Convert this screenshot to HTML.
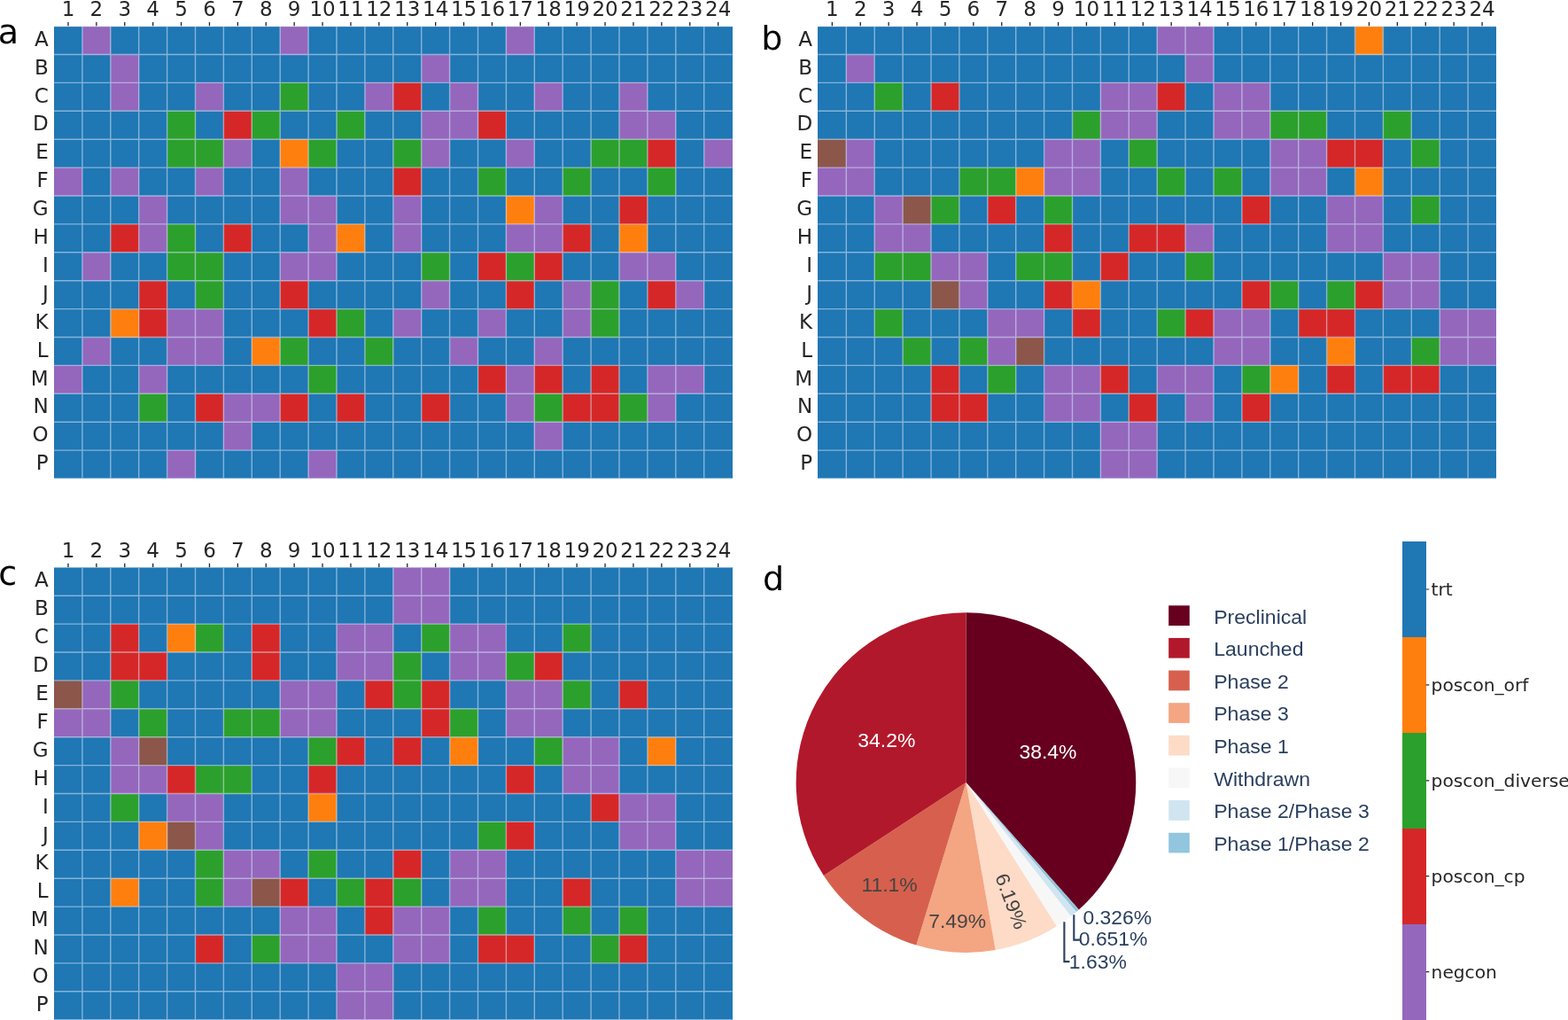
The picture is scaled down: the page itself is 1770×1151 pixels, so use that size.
<!DOCTYPE html>
<html><head><meta charset="utf-8"><title>Plate layout</title>
<style>html,body{margin:0;padding:0;background:#fff;overflow:hidden;}svg{display:block;}</style>
</head><body>
<svg width="1770" height="1151" viewBox="0 0 1770 1151">
<rect x="0" y="0" width="1770" height="1151" fill="#ffffff"/>
<g shape-rendering="crispEdges"><rect x="61" y="29.6" width="31.9" height="31.9" fill="#1f77b4"/><rect x="92.9" y="29.6" width="31.9" height="31.9" fill="#9467bd"/><rect x="124.8" y="29.6" width="191.4" height="31.9" fill="#1f77b4"/><rect x="316.2" y="29.6" width="31.9" height="31.9" fill="#9467bd"/><rect x="348.1" y="29.6" width="223.3" height="31.9" fill="#1f77b4"/><rect x="571.4" y="29.6" width="31.9" height="31.9" fill="#9467bd"/><rect x="603.3" y="29.6" width="223.3" height="31.9" fill="#1f77b4"/><rect x="61" y="61.5" width="63.8" height="31.9" fill="#1f77b4"/><rect x="124.8" y="61.5" width="31.9" height="31.9" fill="#9467bd"/><rect x="156.7" y="61.5" width="319" height="31.9" fill="#1f77b4"/><rect x="475.7" y="61.5" width="31.9" height="31.9" fill="#9467bd"/><rect x="507.6" y="61.5" width="319" height="31.9" fill="#1f77b4"/><rect x="61" y="93.4" width="63.8" height="31.9" fill="#1f77b4"/><rect x="124.8" y="93.4" width="31.9" height="31.9" fill="#9467bd"/><rect x="156.7" y="93.4" width="63.8" height="31.9" fill="#1f77b4"/><rect x="220.5" y="93.4" width="31.9" height="31.9" fill="#9467bd"/><rect x="252.4" y="93.4" width="63.8" height="31.9" fill="#1f77b4"/><rect x="316.2" y="93.4" width="31.9" height="31.9" fill="#2ca02c"/><rect x="348.1" y="93.4" width="63.8" height="31.9" fill="#1f77b4"/><rect x="411.9" y="93.4" width="31.9" height="31.9" fill="#9467bd"/><rect x="443.8" y="93.4" width="31.9" height="31.9" fill="#d62728"/><rect x="475.7" y="93.4" width="31.9" height="31.9" fill="#1f77b4"/><rect x="507.6" y="93.4" width="31.9" height="31.9" fill="#9467bd"/><rect x="539.5" y="93.4" width="63.8" height="31.9" fill="#1f77b4"/><rect x="603.3" y="93.4" width="31.9" height="31.9" fill="#9467bd"/><rect x="635.2" y="93.4" width="63.8" height="31.9" fill="#1f77b4"/><rect x="699" y="93.4" width="31.9" height="31.9" fill="#9467bd"/><rect x="730.9" y="93.4" width="95.7" height="31.9" fill="#1f77b4"/><rect x="61" y="125.3" width="127.6" height="31.9" fill="#1f77b4"/><rect x="188.6" y="125.3" width="31.9" height="31.9" fill="#2ca02c"/><rect x="220.5" y="125.3" width="31.9" height="31.9" fill="#1f77b4"/><rect x="252.4" y="125.3" width="31.9" height="31.9" fill="#d62728"/><rect x="284.3" y="125.3" width="31.9" height="31.9" fill="#2ca02c"/><rect x="316.2" y="125.3" width="63.8" height="31.9" fill="#1f77b4"/><rect x="380" y="125.3" width="31.9" height="31.9" fill="#2ca02c"/><rect x="411.9" y="125.3" width="63.8" height="31.9" fill="#1f77b4"/><rect x="475.7" y="125.3" width="63.8" height="31.9" fill="#9467bd"/><rect x="539.5" y="125.3" width="31.9" height="31.9" fill="#d62728"/><rect x="571.4" y="125.3" width="127.6" height="31.9" fill="#1f77b4"/><rect x="699" y="125.3" width="63.8" height="31.9" fill="#9467bd"/><rect x="762.8" y="125.3" width="63.8" height="31.9" fill="#1f77b4"/><rect x="61" y="157.2" width="127.6" height="31.9" fill="#1f77b4"/><rect x="188.6" y="157.2" width="63.8" height="31.9" fill="#2ca02c"/><rect x="252.4" y="157.2" width="31.9" height="31.9" fill="#9467bd"/><rect x="284.3" y="157.2" width="31.9" height="31.9" fill="#1f77b4"/><rect x="316.2" y="157.2" width="31.9" height="31.9" fill="#ff7f0e"/><rect x="348.1" y="157.2" width="31.9" height="31.9" fill="#2ca02c"/><rect x="380" y="157.2" width="63.8" height="31.9" fill="#1f77b4"/><rect x="443.8" y="157.2" width="31.9" height="31.9" fill="#2ca02c"/><rect x="475.7" y="157.2" width="31.9" height="31.9" fill="#9467bd"/><rect x="507.6" y="157.2" width="63.8" height="31.9" fill="#1f77b4"/><rect x="571.4" y="157.2" width="31.9" height="31.9" fill="#9467bd"/><rect x="603.3" y="157.2" width="63.8" height="31.9" fill="#1f77b4"/><rect x="667.1" y="157.2" width="63.8" height="31.9" fill="#2ca02c"/><rect x="730.9" y="157.2" width="31.9" height="31.9" fill="#d62728"/><rect x="762.8" y="157.2" width="31.9" height="31.9" fill="#1f77b4"/><rect x="794.7" y="157.2" width="31.9" height="31.9" fill="#9467bd"/><rect x="61" y="189.1" width="31.9" height="31.9" fill="#9467bd"/><rect x="92.9" y="189.1" width="31.9" height="31.9" fill="#1f77b4"/><rect x="124.8" y="189.1" width="31.9" height="31.9" fill="#9467bd"/><rect x="156.7" y="189.1" width="63.8" height="31.9" fill="#1f77b4"/><rect x="220.5" y="189.1" width="31.9" height="31.9" fill="#9467bd"/><rect x="252.4" y="189.1" width="63.8" height="31.9" fill="#1f77b4"/><rect x="316.2" y="189.1" width="31.9" height="31.9" fill="#9467bd"/><rect x="348.1" y="189.1" width="95.7" height="31.9" fill="#1f77b4"/><rect x="443.8" y="189.1" width="31.9" height="31.9" fill="#d62728"/><rect x="475.7" y="189.1" width="63.8" height="31.9" fill="#1f77b4"/><rect x="539.5" y="189.1" width="31.9" height="31.9" fill="#2ca02c"/><rect x="571.4" y="189.1" width="63.8" height="31.9" fill="#1f77b4"/><rect x="635.2" y="189.1" width="31.9" height="31.9" fill="#2ca02c"/><rect x="667.1" y="189.1" width="63.8" height="31.9" fill="#1f77b4"/><rect x="730.9" y="189.1" width="31.9" height="31.9" fill="#2ca02c"/><rect x="762.8" y="189.1" width="63.8" height="31.9" fill="#1f77b4"/><rect x="61" y="221" width="95.7" height="31.9" fill="#1f77b4"/><rect x="156.7" y="221" width="31.9" height="31.9" fill="#9467bd"/><rect x="188.6" y="221" width="127.6" height="31.9" fill="#1f77b4"/><rect x="316.2" y="221" width="63.8" height="31.9" fill="#9467bd"/><rect x="380" y="221" width="63.8" height="31.9" fill="#1f77b4"/><rect x="443.8" y="221" width="31.9" height="31.9" fill="#9467bd"/><rect x="475.7" y="221" width="95.7" height="31.9" fill="#1f77b4"/><rect x="571.4" y="221" width="31.9" height="31.9" fill="#ff7f0e"/><rect x="603.3" y="221" width="31.9" height="31.9" fill="#9467bd"/><rect x="635.2" y="221" width="63.8" height="31.9" fill="#1f77b4"/><rect x="699" y="221" width="31.9" height="31.9" fill="#d62728"/><rect x="730.9" y="221" width="95.7" height="31.9" fill="#1f77b4"/><rect x="61" y="252.9" width="63.8" height="31.9" fill="#1f77b4"/><rect x="124.8" y="252.9" width="31.9" height="31.9" fill="#d62728"/><rect x="156.7" y="252.9" width="31.9" height="31.9" fill="#9467bd"/><rect x="188.6" y="252.9" width="31.9" height="31.9" fill="#2ca02c"/><rect x="220.5" y="252.9" width="31.9" height="31.9" fill="#1f77b4"/><rect x="252.4" y="252.9" width="31.9" height="31.9" fill="#d62728"/><rect x="284.3" y="252.9" width="63.8" height="31.9" fill="#1f77b4"/><rect x="348.1" y="252.9" width="31.9" height="31.9" fill="#9467bd"/><rect x="380" y="252.9" width="31.9" height="31.9" fill="#ff7f0e"/><rect x="411.9" y="252.9" width="31.9" height="31.9" fill="#1f77b4"/><rect x="443.8" y="252.9" width="31.9" height="31.9" fill="#9467bd"/><rect x="475.7" y="252.9" width="95.7" height="31.9" fill="#1f77b4"/><rect x="571.4" y="252.9" width="63.8" height="31.9" fill="#9467bd"/><rect x="635.2" y="252.9" width="31.9" height="31.9" fill="#d62728"/><rect x="667.1" y="252.9" width="31.9" height="31.9" fill="#1f77b4"/><rect x="699" y="252.9" width="31.9" height="31.9" fill="#ff7f0e"/><rect x="730.9" y="252.9" width="95.7" height="31.9" fill="#1f77b4"/><rect x="61" y="284.8" width="31.9" height="31.9" fill="#1f77b4"/><rect x="92.9" y="284.8" width="31.9" height="31.9" fill="#9467bd"/><rect x="124.8" y="284.8" width="63.8" height="31.9" fill="#1f77b4"/><rect x="188.6" y="284.8" width="63.8" height="31.9" fill="#2ca02c"/><rect x="252.4" y="284.8" width="63.8" height="31.9" fill="#1f77b4"/><rect x="316.2" y="284.8" width="63.8" height="31.9" fill="#9467bd"/><rect x="380" y="284.8" width="95.7" height="31.9" fill="#1f77b4"/><rect x="475.7" y="284.8" width="31.9" height="31.9" fill="#2ca02c"/><rect x="507.6" y="284.8" width="31.9" height="31.9" fill="#1f77b4"/><rect x="539.5" y="284.8" width="31.9" height="31.9" fill="#d62728"/><rect x="571.4" y="284.8" width="31.9" height="31.9" fill="#2ca02c"/><rect x="603.3" y="284.8" width="31.9" height="31.9" fill="#d62728"/><rect x="635.2" y="284.8" width="63.8" height="31.9" fill="#1f77b4"/><rect x="699" y="284.8" width="63.8" height="31.9" fill="#9467bd"/><rect x="762.8" y="284.8" width="63.8" height="31.9" fill="#1f77b4"/><rect x="61" y="316.7" width="95.7" height="31.9" fill="#1f77b4"/><rect x="156.7" y="316.7" width="31.9" height="31.9" fill="#d62728"/><rect x="188.6" y="316.7" width="31.9" height="31.9" fill="#1f77b4"/><rect x="220.5" y="316.7" width="31.9" height="31.9" fill="#2ca02c"/><rect x="252.4" y="316.7" width="63.8" height="31.9" fill="#1f77b4"/><rect x="316.2" y="316.7" width="31.9" height="31.9" fill="#d62728"/><rect x="348.1" y="316.7" width="127.6" height="31.9" fill="#1f77b4"/><rect x="475.7" y="316.7" width="31.9" height="31.9" fill="#9467bd"/><rect x="507.6" y="316.7" width="63.8" height="31.9" fill="#1f77b4"/><rect x="571.4" y="316.7" width="31.9" height="31.9" fill="#d62728"/><rect x="603.3" y="316.7" width="31.9" height="31.9" fill="#1f77b4"/><rect x="635.2" y="316.7" width="31.9" height="31.9" fill="#9467bd"/><rect x="667.1" y="316.7" width="31.9" height="31.9" fill="#2ca02c"/><rect x="699" y="316.7" width="31.9" height="31.9" fill="#1f77b4"/><rect x="730.9" y="316.7" width="31.9" height="31.9" fill="#d62728"/><rect x="762.8" y="316.7" width="31.9" height="31.9" fill="#9467bd"/><rect x="794.7" y="316.7" width="31.9" height="31.9" fill="#1f77b4"/><rect x="61" y="348.6" width="63.8" height="31.9" fill="#1f77b4"/><rect x="124.8" y="348.6" width="31.9" height="31.9" fill="#ff7f0e"/><rect x="156.7" y="348.6" width="31.9" height="31.9" fill="#d62728"/><rect x="188.6" y="348.6" width="63.8" height="31.9" fill="#9467bd"/><rect x="252.4" y="348.6" width="95.7" height="31.9" fill="#1f77b4"/><rect x="348.1" y="348.6" width="31.9" height="31.9" fill="#d62728"/><rect x="380" y="348.6" width="31.9" height="31.9" fill="#2ca02c"/><rect x="411.9" y="348.6" width="31.9" height="31.9" fill="#1f77b4"/><rect x="443.8" y="348.6" width="31.9" height="31.9" fill="#9467bd"/><rect x="475.7" y="348.6" width="63.8" height="31.9" fill="#1f77b4"/><rect x="539.5" y="348.6" width="31.9" height="31.9" fill="#9467bd"/><rect x="571.4" y="348.6" width="63.8" height="31.9" fill="#1f77b4"/><rect x="635.2" y="348.6" width="31.9" height="31.9" fill="#9467bd"/><rect x="667.1" y="348.6" width="31.9" height="31.9" fill="#2ca02c"/><rect x="699" y="348.6" width="127.6" height="31.9" fill="#1f77b4"/><rect x="61" y="380.5" width="31.9" height="31.9" fill="#1f77b4"/><rect x="92.9" y="380.5" width="31.9" height="31.9" fill="#9467bd"/><rect x="124.8" y="380.5" width="63.8" height="31.9" fill="#1f77b4"/><rect x="188.6" y="380.5" width="63.8" height="31.9" fill="#9467bd"/><rect x="252.4" y="380.5" width="31.9" height="31.9" fill="#1f77b4"/><rect x="284.3" y="380.5" width="31.9" height="31.9" fill="#ff7f0e"/><rect x="316.2" y="380.5" width="31.9" height="31.9" fill="#2ca02c"/><rect x="348.1" y="380.5" width="63.8" height="31.9" fill="#1f77b4"/><rect x="411.9" y="380.5" width="31.9" height="31.9" fill="#2ca02c"/><rect x="443.8" y="380.5" width="63.8" height="31.9" fill="#1f77b4"/><rect x="507.6" y="380.5" width="31.9" height="31.9" fill="#9467bd"/><rect x="539.5" y="380.5" width="63.8" height="31.9" fill="#1f77b4"/><rect x="603.3" y="380.5" width="31.9" height="31.9" fill="#9467bd"/><rect x="635.2" y="380.5" width="191.4" height="31.9" fill="#1f77b4"/><rect x="61" y="412.4" width="31.9" height="31.9" fill="#9467bd"/><rect x="92.9" y="412.4" width="63.8" height="31.9" fill="#1f77b4"/><rect x="156.7" y="412.4" width="31.9" height="31.9" fill="#9467bd"/><rect x="188.6" y="412.4" width="159.5" height="31.9" fill="#1f77b4"/><rect x="348.1" y="412.4" width="31.9" height="31.9" fill="#2ca02c"/><rect x="380" y="412.4" width="159.5" height="31.9" fill="#1f77b4"/><rect x="539.5" y="412.4" width="31.9" height="31.9" fill="#d62728"/><rect x="571.4" y="412.4" width="31.9" height="31.9" fill="#9467bd"/><rect x="603.3" y="412.4" width="31.9" height="31.9" fill="#d62728"/><rect x="635.2" y="412.4" width="31.9" height="31.9" fill="#1f77b4"/><rect x="667.1" y="412.4" width="31.9" height="31.9" fill="#d62728"/><rect x="699" y="412.4" width="31.9" height="31.9" fill="#1f77b4"/><rect x="730.9" y="412.4" width="63.8" height="31.9" fill="#9467bd"/><rect x="794.7" y="412.4" width="31.9" height="31.9" fill="#1f77b4"/><rect x="61" y="444.3" width="95.7" height="31.9" fill="#1f77b4"/><rect x="156.7" y="444.3" width="31.9" height="31.9" fill="#2ca02c"/><rect x="188.6" y="444.3" width="31.9" height="31.9" fill="#1f77b4"/><rect x="220.5" y="444.3" width="31.9" height="31.9" fill="#d62728"/><rect x="252.4" y="444.3" width="63.8" height="31.9" fill="#9467bd"/><rect x="316.2" y="444.3" width="31.9" height="31.9" fill="#d62728"/><rect x="348.1" y="444.3" width="31.9" height="31.9" fill="#1f77b4"/><rect x="380" y="444.3" width="31.9" height="31.9" fill="#d62728"/><rect x="411.9" y="444.3" width="63.8" height="31.9" fill="#1f77b4"/><rect x="475.7" y="444.3" width="31.9" height="31.9" fill="#d62728"/><rect x="507.6" y="444.3" width="63.8" height="31.9" fill="#1f77b4"/><rect x="571.4" y="444.3" width="31.9" height="31.9" fill="#9467bd"/><rect x="603.3" y="444.3" width="31.9" height="31.9" fill="#2ca02c"/><rect x="635.2" y="444.3" width="63.8" height="31.9" fill="#d62728"/><rect x="699" y="444.3" width="31.9" height="31.9" fill="#2ca02c"/><rect x="730.9" y="444.3" width="31.9" height="31.9" fill="#9467bd"/><rect x="762.8" y="444.3" width="63.8" height="31.9" fill="#1f77b4"/><rect x="61" y="476.2" width="191.4" height="31.9" fill="#1f77b4"/><rect x="252.4" y="476.2" width="31.9" height="31.9" fill="#9467bd"/><rect x="284.3" y="476.2" width="319" height="31.9" fill="#1f77b4"/><rect x="603.3" y="476.2" width="31.9" height="31.9" fill="#9467bd"/><rect x="635.2" y="476.2" width="191.4" height="31.9" fill="#1f77b4"/><rect x="61" y="508.1" width="127.6" height="31.9" fill="#1f77b4"/><rect x="188.6" y="508.1" width="31.9" height="31.9" fill="#9467bd"/><rect x="220.5" y="508.1" width="127.6" height="31.9" fill="#1f77b4"/><rect x="348.1" y="508.1" width="31.9" height="31.9" fill="#9467bd"/><rect x="380" y="508.1" width="446.6" height="31.9" fill="#1f77b4"/></g>
<path d="M92.9 29.6V540M124.8 29.6V540M156.7 29.6V540M188.6 29.6V540M220.5 29.6V540M252.4 29.6V540M284.3 29.6V540M316.2 29.6V540M348.1 29.6V540M380 29.6V540M411.9 29.6V540M443.8 29.6V540M475.7 29.6V540M507.6 29.6V540M539.5 29.6V540M571.4 29.6V540M603.3 29.6V540M635.2 29.6V540M667.1 29.6V540M699 29.6V540M730.9 29.6V540M762.8 29.6V540M794.7 29.6V540M61 29.6H826.6M61 61.5H826.6M61 93.4H826.6M61 125.3H826.6M61 157.2H826.6M61 189.1H826.6M61 221H826.6M61 252.9H826.6M61 284.8H826.6M61 316.7H826.6M61 348.6H826.6M61 380.5H826.6M61 412.4H826.6M61 444.3H826.6M61 476.2H826.6M61 508.1H826.6M61 540H826.6" stroke="#d8e8f8" stroke-opacity="0.55" stroke-width="1.4" fill="none"/>
<path d="M76.95 25V29.2M108.85 25V29.2M140.75 25V29.2M172.65 25V29.2M204.55 25V29.2M236.45 25V29.2M268.35 25V29.2M300.25 25V29.2M332.15 25V29.2M364.05 25V29.2M395.95 25V29.2M427.85 25V29.2M459.75 25V29.2M491.65 25V29.2M523.55 25V29.2M555.45 25V29.2M587.35 25V29.2M619.25 25V29.2M651.15 25V29.2M683.05 25V29.2M714.95 25V29.2M746.85 25V29.2M778.75 25V29.2M810.65 25V29.2" stroke="#262626" stroke-width="1.3" fill="none"/>
<g font-family="'DejaVu Sans', sans-serif" font-size="23" fill="#262626" text-anchor="middle"><text x="76.95" y="18">1</text><text x="108.85" y="18">2</text><text x="140.75" y="18">3</text><text x="172.65" y="18">4</text><text x="204.55" y="18">5</text><text x="236.45" y="18">6</text><text x="268.35" y="18">7</text><text x="300.25" y="18">8</text><text x="332.15" y="18">9</text><text x="364.05" y="18">10</text><text x="395.95" y="18">11</text><text x="427.85" y="18">12</text><text x="459.75" y="18">13</text><text x="491.65" y="18">14</text><text x="523.55" y="18">15</text><text x="555.45" y="18">16</text><text x="587.35" y="18">17</text><text x="619.25" y="18">18</text><text x="651.15" y="18">19</text><text x="683.05" y="18">20</text><text x="714.95" y="18">21</text><text x="746.85" y="18">22</text><text x="778.75" y="18">23</text><text x="810.65" y="18">24</text></g>
<g font-family="'DejaVu Sans', sans-serif" font-size="23" fill="#262626" text-anchor="end"><text x="54.7" y="45.35" dy="0.28em">A</text><text x="54.7" y="77.25" dy="0.28em">B</text><text x="54.7" y="109.15" dy="0.28em">C</text><text x="54.7" y="141.05" dy="0.28em">D</text><text x="54.7" y="172.95" dy="0.28em">E</text><text x="54.7" y="204.85" dy="0.28em">F</text><text x="54.7" y="236.75" dy="0.28em">G</text><text x="54.7" y="268.65" dy="0.28em">H</text><text x="54.7" y="300.55" dy="0.28em">I</text><text x="54.7" y="332.45" dy="0.28em">J</text><text x="54.7" y="364.35" dy="0.28em">K</text><text x="54.7" y="396.25" dy="0.28em">L</text><text x="54.7" y="428.15" dy="0.28em">M</text><text x="54.7" y="460.05" dy="0.28em">N</text><text x="54.7" y="491.95" dy="0.28em">O</text><text x="54.7" y="523.85" dy="0.28em">P</text></g>
<g shape-rendering="crispEdges"><rect x="923.4" y="29.6" width="382.8" height="31.9" fill="#1f77b4"/><rect x="1306.2" y="29.6" width="63.8" height="31.9" fill="#9467bd"/><rect x="1370" y="29.6" width="159.5" height="31.9" fill="#1f77b4"/><rect x="1529.5" y="29.6" width="31.9" height="31.9" fill="#ff7f0e"/><rect x="1561.4" y="29.6" width="127.6" height="31.9" fill="#1f77b4"/><rect x="923.4" y="61.5" width="31.9" height="31.9" fill="#1f77b4"/><rect x="955.3" y="61.5" width="31.9" height="31.9" fill="#9467bd"/><rect x="987.2" y="61.5" width="350.9" height="31.9" fill="#1f77b4"/><rect x="1338.1" y="61.5" width="31.9" height="31.9" fill="#9467bd"/><rect x="1370" y="61.5" width="319" height="31.9" fill="#1f77b4"/><rect x="923.4" y="93.4" width="63.8" height="31.9" fill="#1f77b4"/><rect x="987.2" y="93.4" width="31.9" height="31.9" fill="#2ca02c"/><rect x="1019.1" y="93.4" width="31.9" height="31.9" fill="#1f77b4"/><rect x="1051" y="93.4" width="31.9" height="31.9" fill="#d62728"/><rect x="1082.9" y="93.4" width="159.5" height="31.9" fill="#1f77b4"/><rect x="1242.4" y="93.4" width="63.8" height="31.9" fill="#9467bd"/><rect x="1306.2" y="93.4" width="31.9" height="31.9" fill="#d62728"/><rect x="1338.1" y="93.4" width="31.9" height="31.9" fill="#1f77b4"/><rect x="1370" y="93.4" width="63.8" height="31.9" fill="#9467bd"/><rect x="1433.8" y="93.4" width="255.2" height="31.9" fill="#1f77b4"/><rect x="923.4" y="125.3" width="287.1" height="31.9" fill="#1f77b4"/><rect x="1210.5" y="125.3" width="31.9" height="31.9" fill="#2ca02c"/><rect x="1242.4" y="125.3" width="63.8" height="31.9" fill="#9467bd"/><rect x="1306.2" y="125.3" width="63.8" height="31.9" fill="#1f77b4"/><rect x="1370" y="125.3" width="63.8" height="31.9" fill="#9467bd"/><rect x="1433.8" y="125.3" width="63.8" height="31.9" fill="#2ca02c"/><rect x="1497.6" y="125.3" width="63.8" height="31.9" fill="#1f77b4"/><rect x="1561.4" y="125.3" width="31.9" height="31.9" fill="#2ca02c"/><rect x="1593.3" y="125.3" width="95.7" height="31.9" fill="#1f77b4"/><rect x="923.4" y="157.2" width="31.9" height="31.9" fill="#8c564b"/><rect x="955.3" y="157.2" width="31.9" height="31.9" fill="#9467bd"/><rect x="987.2" y="157.2" width="191.4" height="31.9" fill="#1f77b4"/><rect x="1178.6" y="157.2" width="63.8" height="31.9" fill="#9467bd"/><rect x="1242.4" y="157.2" width="31.9" height="31.9" fill="#1f77b4"/><rect x="1274.3" y="157.2" width="31.9" height="31.9" fill="#2ca02c"/><rect x="1306.2" y="157.2" width="127.6" height="31.9" fill="#1f77b4"/><rect x="1433.8" y="157.2" width="63.8" height="31.9" fill="#9467bd"/><rect x="1497.6" y="157.2" width="63.8" height="31.9" fill="#d62728"/><rect x="1561.4" y="157.2" width="31.9" height="31.9" fill="#1f77b4"/><rect x="1593.3" y="157.2" width="31.9" height="31.9" fill="#2ca02c"/><rect x="1625.2" y="157.2" width="63.8" height="31.9" fill="#1f77b4"/><rect x="923.4" y="189.1" width="63.8" height="31.9" fill="#9467bd"/><rect x="987.2" y="189.1" width="95.7" height="31.9" fill="#1f77b4"/><rect x="1082.9" y="189.1" width="63.8" height="31.9" fill="#2ca02c"/><rect x="1146.7" y="189.1" width="31.9" height="31.9" fill="#ff7f0e"/><rect x="1178.6" y="189.1" width="63.8" height="31.9" fill="#9467bd"/><rect x="1242.4" y="189.1" width="63.8" height="31.9" fill="#1f77b4"/><rect x="1306.2" y="189.1" width="31.9" height="31.9" fill="#2ca02c"/><rect x="1338.1" y="189.1" width="31.9" height="31.9" fill="#1f77b4"/><rect x="1370" y="189.1" width="31.9" height="31.9" fill="#2ca02c"/><rect x="1401.9" y="189.1" width="31.9" height="31.9" fill="#1f77b4"/><rect x="1433.8" y="189.1" width="63.8" height="31.9" fill="#9467bd"/><rect x="1497.6" y="189.1" width="31.9" height="31.9" fill="#1f77b4"/><rect x="1529.5" y="189.1" width="31.9" height="31.9" fill="#ff7f0e"/><rect x="1561.4" y="189.1" width="127.6" height="31.9" fill="#1f77b4"/><rect x="923.4" y="221" width="63.8" height="31.9" fill="#1f77b4"/><rect x="987.2" y="221" width="31.9" height="31.9" fill="#9467bd"/><rect x="1019.1" y="221" width="31.9" height="31.9" fill="#8c564b"/><rect x="1051" y="221" width="31.9" height="31.9" fill="#2ca02c"/><rect x="1082.9" y="221" width="31.9" height="31.9" fill="#1f77b4"/><rect x="1114.8" y="221" width="31.9" height="31.9" fill="#d62728"/><rect x="1146.7" y="221" width="31.9" height="31.9" fill="#1f77b4"/><rect x="1178.6" y="221" width="31.9" height="31.9" fill="#2ca02c"/><rect x="1210.5" y="221" width="191.4" height="31.9" fill="#1f77b4"/><rect x="1401.9" y="221" width="31.9" height="31.9" fill="#d62728"/><rect x="1433.8" y="221" width="63.8" height="31.9" fill="#1f77b4"/><rect x="1497.6" y="221" width="63.8" height="31.9" fill="#9467bd"/><rect x="1561.4" y="221" width="31.9" height="31.9" fill="#1f77b4"/><rect x="1593.3" y="221" width="31.9" height="31.9" fill="#2ca02c"/><rect x="1625.2" y="221" width="63.8" height="31.9" fill="#1f77b4"/><rect x="923.4" y="252.9" width="63.8" height="31.9" fill="#1f77b4"/><rect x="987.2" y="252.9" width="63.8" height="31.9" fill="#9467bd"/><rect x="1051" y="252.9" width="127.6" height="31.9" fill="#1f77b4"/><rect x="1178.6" y="252.9" width="31.9" height="31.9" fill="#d62728"/><rect x="1210.5" y="252.9" width="63.8" height="31.9" fill="#1f77b4"/><rect x="1274.3" y="252.9" width="63.8" height="31.9" fill="#d62728"/><rect x="1338.1" y="252.9" width="31.9" height="31.9" fill="#9467bd"/><rect x="1370" y="252.9" width="127.6" height="31.9" fill="#1f77b4"/><rect x="1497.6" y="252.9" width="63.8" height="31.9" fill="#9467bd"/><rect x="1561.4" y="252.9" width="127.6" height="31.9" fill="#1f77b4"/><rect x="923.4" y="284.8" width="63.8" height="31.9" fill="#1f77b4"/><rect x="987.2" y="284.8" width="63.8" height="31.9" fill="#2ca02c"/><rect x="1051" y="284.8" width="63.8" height="31.9" fill="#9467bd"/><rect x="1114.8" y="284.8" width="31.9" height="31.9" fill="#1f77b4"/><rect x="1146.7" y="284.8" width="63.8" height="31.9" fill="#2ca02c"/><rect x="1210.5" y="284.8" width="31.9" height="31.9" fill="#1f77b4"/><rect x="1242.4" y="284.8" width="31.9" height="31.9" fill="#d62728"/><rect x="1274.3" y="284.8" width="63.8" height="31.9" fill="#1f77b4"/><rect x="1338.1" y="284.8" width="31.9" height="31.9" fill="#2ca02c"/><rect x="1370" y="284.8" width="191.4" height="31.9" fill="#1f77b4"/><rect x="1561.4" y="284.8" width="63.8" height="31.9" fill="#9467bd"/><rect x="1625.2" y="284.8" width="63.8" height="31.9" fill="#1f77b4"/><rect x="923.4" y="316.7" width="127.6" height="31.9" fill="#1f77b4"/><rect x="1051" y="316.7" width="31.9" height="31.9" fill="#8c564b"/><rect x="1082.9" y="316.7" width="31.9" height="31.9" fill="#9467bd"/><rect x="1114.8" y="316.7" width="63.8" height="31.9" fill="#1f77b4"/><rect x="1178.6" y="316.7" width="31.9" height="31.9" fill="#d62728"/><rect x="1210.5" y="316.7" width="31.9" height="31.9" fill="#ff7f0e"/><rect x="1242.4" y="316.7" width="159.5" height="31.9" fill="#1f77b4"/><rect x="1401.9" y="316.7" width="31.9" height="31.9" fill="#d62728"/><rect x="1433.8" y="316.7" width="31.9" height="31.9" fill="#2ca02c"/><rect x="1465.7" y="316.7" width="31.9" height="31.9" fill="#1f77b4"/><rect x="1497.6" y="316.7" width="31.9" height="31.9" fill="#2ca02c"/><rect x="1529.5" y="316.7" width="31.9" height="31.9" fill="#d62728"/><rect x="1561.4" y="316.7" width="63.8" height="31.9" fill="#9467bd"/><rect x="1625.2" y="316.7" width="63.8" height="31.9" fill="#1f77b4"/><rect x="923.4" y="348.6" width="63.8" height="31.9" fill="#1f77b4"/><rect x="987.2" y="348.6" width="31.9" height="31.9" fill="#2ca02c"/><rect x="1019.1" y="348.6" width="95.7" height="31.9" fill="#1f77b4"/><rect x="1114.8" y="348.6" width="63.8" height="31.9" fill="#9467bd"/><rect x="1178.6" y="348.6" width="31.9" height="31.9" fill="#1f77b4"/><rect x="1210.5" y="348.6" width="31.9" height="31.9" fill="#d62728"/><rect x="1242.4" y="348.6" width="63.8" height="31.9" fill="#1f77b4"/><rect x="1306.2" y="348.6" width="31.9" height="31.9" fill="#2ca02c"/><rect x="1338.1" y="348.6" width="31.9" height="31.9" fill="#d62728"/><rect x="1370" y="348.6" width="63.8" height="31.9" fill="#9467bd"/><rect x="1433.8" y="348.6" width="31.9" height="31.9" fill="#1f77b4"/><rect x="1465.7" y="348.6" width="63.8" height="31.9" fill="#d62728"/><rect x="1529.5" y="348.6" width="95.7" height="31.9" fill="#1f77b4"/><rect x="1625.2" y="348.6" width="63.8" height="31.9" fill="#9467bd"/><rect x="923.4" y="380.5" width="95.7" height="31.9" fill="#1f77b4"/><rect x="1019.1" y="380.5" width="31.9" height="31.9" fill="#2ca02c"/><rect x="1051" y="380.5" width="31.9" height="31.9" fill="#1f77b4"/><rect x="1082.9" y="380.5" width="31.9" height="31.9" fill="#2ca02c"/><rect x="1114.8" y="380.5" width="31.9" height="31.9" fill="#9467bd"/><rect x="1146.7" y="380.5" width="31.9" height="31.9" fill="#8c564b"/><rect x="1178.6" y="380.5" width="191.4" height="31.9" fill="#1f77b4"/><rect x="1370" y="380.5" width="63.8" height="31.9" fill="#9467bd"/><rect x="1433.8" y="380.5" width="63.8" height="31.9" fill="#1f77b4"/><rect x="1497.6" y="380.5" width="31.9" height="31.9" fill="#ff7f0e"/><rect x="1529.5" y="380.5" width="63.8" height="31.9" fill="#1f77b4"/><rect x="1593.3" y="380.5" width="31.9" height="31.9" fill="#2ca02c"/><rect x="1625.2" y="380.5" width="63.8" height="31.9" fill="#9467bd"/><rect x="923.4" y="412.4" width="127.6" height="31.9" fill="#1f77b4"/><rect x="1051" y="412.4" width="31.9" height="31.9" fill="#d62728"/><rect x="1082.9" y="412.4" width="31.9" height="31.9" fill="#1f77b4"/><rect x="1114.8" y="412.4" width="31.9" height="31.9" fill="#2ca02c"/><rect x="1146.7" y="412.4" width="31.9" height="31.9" fill="#1f77b4"/><rect x="1178.6" y="412.4" width="63.8" height="31.9" fill="#9467bd"/><rect x="1242.4" y="412.4" width="31.9" height="31.9" fill="#d62728"/><rect x="1274.3" y="412.4" width="31.9" height="31.9" fill="#1f77b4"/><rect x="1306.2" y="412.4" width="63.8" height="31.9" fill="#9467bd"/><rect x="1370" y="412.4" width="31.9" height="31.9" fill="#1f77b4"/><rect x="1401.9" y="412.4" width="31.9" height="31.9" fill="#2ca02c"/><rect x="1433.8" y="412.4" width="31.9" height="31.9" fill="#ff7f0e"/><rect x="1465.7" y="412.4" width="31.9" height="31.9" fill="#1f77b4"/><rect x="1497.6" y="412.4" width="31.9" height="31.9" fill="#d62728"/><rect x="1529.5" y="412.4" width="31.9" height="31.9" fill="#1f77b4"/><rect x="1561.4" y="412.4" width="63.8" height="31.9" fill="#d62728"/><rect x="1625.2" y="412.4" width="63.8" height="31.9" fill="#1f77b4"/><rect x="923.4" y="444.3" width="127.6" height="31.9" fill="#1f77b4"/><rect x="1051" y="444.3" width="63.8" height="31.9" fill="#d62728"/><rect x="1114.8" y="444.3" width="63.8" height="31.9" fill="#1f77b4"/><rect x="1178.6" y="444.3" width="63.8" height="31.9" fill="#9467bd"/><rect x="1242.4" y="444.3" width="31.9" height="31.9" fill="#1f77b4"/><rect x="1274.3" y="444.3" width="31.9" height="31.9" fill="#d62728"/><rect x="1306.2" y="444.3" width="31.9" height="31.9" fill="#1f77b4"/><rect x="1338.1" y="444.3" width="31.9" height="31.9" fill="#9467bd"/><rect x="1370" y="444.3" width="31.9" height="31.9" fill="#1f77b4"/><rect x="1401.9" y="444.3" width="31.9" height="31.9" fill="#d62728"/><rect x="1433.8" y="444.3" width="255.2" height="31.9" fill="#1f77b4"/><rect x="923.4" y="476.2" width="319" height="31.9" fill="#1f77b4"/><rect x="1242.4" y="476.2" width="63.8" height="31.9" fill="#9467bd"/><rect x="1306.2" y="476.2" width="382.8" height="31.9" fill="#1f77b4"/><rect x="923.4" y="508.1" width="319" height="31.9" fill="#1f77b4"/><rect x="1242.4" y="508.1" width="63.8" height="31.9" fill="#9467bd"/><rect x="1306.2" y="508.1" width="382.8" height="31.9" fill="#1f77b4"/></g>
<path d="M955.3 29.6V540M987.2 29.6V540M1019.1 29.6V540M1051 29.6V540M1082.9 29.6V540M1114.8 29.6V540M1146.7 29.6V540M1178.6 29.6V540M1210.5 29.6V540M1242.4 29.6V540M1274.3 29.6V540M1306.2 29.6V540M1338.1 29.6V540M1370 29.6V540M1401.9 29.6V540M1433.8 29.6V540M1465.7 29.6V540M1497.6 29.6V540M1529.5 29.6V540M1561.4 29.6V540M1593.3 29.6V540M1625.2 29.6V540M1657.1 29.6V540M923.4 29.6H1689M923.4 61.5H1689M923.4 93.4H1689M923.4 125.3H1689M923.4 157.2H1689M923.4 189.1H1689M923.4 221H1689M923.4 252.9H1689M923.4 284.8H1689M923.4 316.7H1689M923.4 348.6H1689M923.4 380.5H1689M923.4 412.4H1689M923.4 444.3H1689M923.4 476.2H1689M923.4 508.1H1689M923.4 540H1689" stroke="#d8e8f8" stroke-opacity="0.55" stroke-width="1.4" fill="none"/>
<path d="M939.35 25V29.2M971.25 25V29.2M1003.15 25V29.2M1035.05 25V29.2M1066.95 25V29.2M1098.85 25V29.2M1130.75 25V29.2M1162.65 25V29.2M1194.55 25V29.2M1226.45 25V29.2M1258.35 25V29.2M1290.25 25V29.2M1322.15 25V29.2M1354.05 25V29.2M1385.95 25V29.2M1417.85 25V29.2M1449.75 25V29.2M1481.65 25V29.2M1513.55 25V29.2M1545.45 25V29.2M1577.35 25V29.2M1609.25 25V29.2M1641.15 25V29.2M1673.05 25V29.2" stroke="#262626" stroke-width="1.3" fill="none"/>
<g font-family="'DejaVu Sans', sans-serif" font-size="23" fill="#262626" text-anchor="middle"><text x="939.35" y="18">1</text><text x="971.25" y="18">2</text><text x="1003.15" y="18">3</text><text x="1035.05" y="18">4</text><text x="1066.95" y="18">5</text><text x="1098.85" y="18">6</text><text x="1130.75" y="18">7</text><text x="1162.65" y="18">8</text><text x="1194.55" y="18">9</text><text x="1226.45" y="18">10</text><text x="1258.35" y="18">11</text><text x="1290.25" y="18">12</text><text x="1322.15" y="18">13</text><text x="1354.05" y="18">14</text><text x="1385.95" y="18">15</text><text x="1417.85" y="18">16</text><text x="1449.75" y="18">17</text><text x="1481.65" y="18">18</text><text x="1513.55" y="18">19</text><text x="1545.45" y="18">20</text><text x="1577.35" y="18">21</text><text x="1609.25" y="18">22</text><text x="1641.15" y="18">23</text><text x="1673.05" y="18">24</text></g>
<g font-family="'DejaVu Sans', sans-serif" font-size="23" fill="#262626" text-anchor="end"><text x="917.1" y="45.35" dy="0.28em">A</text><text x="917.1" y="77.25" dy="0.28em">B</text><text x="917.1" y="109.15" dy="0.28em">C</text><text x="917.1" y="141.05" dy="0.28em">D</text><text x="917.1" y="172.95" dy="0.28em">E</text><text x="917.1" y="204.85" dy="0.28em">F</text><text x="917.1" y="236.75" dy="0.28em">G</text><text x="917.1" y="268.65" dy="0.28em">H</text><text x="917.1" y="300.55" dy="0.28em">I</text><text x="917.1" y="332.45" dy="0.28em">J</text><text x="917.1" y="364.35" dy="0.28em">K</text><text x="917.1" y="396.25" dy="0.28em">L</text><text x="917.1" y="428.15" dy="0.28em">M</text><text x="917.1" y="460.05" dy="0.28em">N</text><text x="917.1" y="491.95" dy="0.28em">O</text><text x="917.1" y="523.85" dy="0.28em">P</text></g>
<g shape-rendering="crispEdges"><rect x="61" y="640.3" width="382.8" height="31.9" fill="#1f77b4"/><rect x="443.8" y="640.3" width="63.8" height="31.9" fill="#9467bd"/><rect x="507.6" y="640.3" width="319" height="31.9" fill="#1f77b4"/><rect x="61" y="672.2" width="382.8" height="31.9" fill="#1f77b4"/><rect x="443.8" y="672.2" width="63.8" height="31.9" fill="#9467bd"/><rect x="507.6" y="672.2" width="319" height="31.9" fill="#1f77b4"/><rect x="61" y="704.1" width="63.8" height="31.9" fill="#1f77b4"/><rect x="124.8" y="704.1" width="31.9" height="31.9" fill="#d62728"/><rect x="156.7" y="704.1" width="31.9" height="31.9" fill="#1f77b4"/><rect x="188.6" y="704.1" width="31.9" height="31.9" fill="#ff7f0e"/><rect x="220.5" y="704.1" width="31.9" height="31.9" fill="#2ca02c"/><rect x="252.4" y="704.1" width="31.9" height="31.9" fill="#1f77b4"/><rect x="284.3" y="704.1" width="31.9" height="31.9" fill="#d62728"/><rect x="316.2" y="704.1" width="63.8" height="31.9" fill="#1f77b4"/><rect x="380" y="704.1" width="63.8" height="31.9" fill="#9467bd"/><rect x="443.8" y="704.1" width="31.9" height="31.9" fill="#1f77b4"/><rect x="475.7" y="704.1" width="31.9" height="31.9" fill="#2ca02c"/><rect x="507.6" y="704.1" width="63.8" height="31.9" fill="#9467bd"/><rect x="571.4" y="704.1" width="63.8" height="31.9" fill="#1f77b4"/><rect x="635.2" y="704.1" width="31.9" height="31.9" fill="#2ca02c"/><rect x="667.1" y="704.1" width="159.5" height="31.9" fill="#1f77b4"/><rect x="61" y="736" width="63.8" height="31.9" fill="#1f77b4"/><rect x="124.8" y="736" width="63.8" height="31.9" fill="#d62728"/><rect x="188.6" y="736" width="95.7" height="31.9" fill="#1f77b4"/><rect x="284.3" y="736" width="31.9" height="31.9" fill="#d62728"/><rect x="316.2" y="736" width="63.8" height="31.9" fill="#1f77b4"/><rect x="380" y="736" width="63.8" height="31.9" fill="#9467bd"/><rect x="443.8" y="736" width="31.9" height="31.9" fill="#2ca02c"/><rect x="475.7" y="736" width="31.9" height="31.9" fill="#1f77b4"/><rect x="507.6" y="736" width="63.8" height="31.9" fill="#9467bd"/><rect x="571.4" y="736" width="31.9" height="31.9" fill="#2ca02c"/><rect x="603.3" y="736" width="31.9" height="31.9" fill="#d62728"/><rect x="635.2" y="736" width="191.4" height="31.9" fill="#1f77b4"/><rect x="61" y="767.9" width="31.9" height="31.9" fill="#8c564b"/><rect x="92.9" y="767.9" width="31.9" height="31.9" fill="#9467bd"/><rect x="124.8" y="767.9" width="31.9" height="31.9" fill="#2ca02c"/><rect x="156.7" y="767.9" width="159.5" height="31.9" fill="#1f77b4"/><rect x="316.2" y="767.9" width="63.8" height="31.9" fill="#9467bd"/><rect x="380" y="767.9" width="31.9" height="31.9" fill="#1f77b4"/><rect x="411.9" y="767.9" width="31.9" height="31.9" fill="#d62728"/><rect x="443.8" y="767.9" width="31.9" height="31.9" fill="#2ca02c"/><rect x="475.7" y="767.9" width="31.9" height="31.9" fill="#d62728"/><rect x="507.6" y="767.9" width="63.8" height="31.9" fill="#1f77b4"/><rect x="571.4" y="767.9" width="63.8" height="31.9" fill="#9467bd"/><rect x="635.2" y="767.9" width="31.9" height="31.9" fill="#2ca02c"/><rect x="667.1" y="767.9" width="31.9" height="31.9" fill="#1f77b4"/><rect x="699" y="767.9" width="31.9" height="31.9" fill="#d62728"/><rect x="730.9" y="767.9" width="95.7" height="31.9" fill="#1f77b4"/><rect x="61" y="799.8" width="63.8" height="31.9" fill="#9467bd"/><rect x="124.8" y="799.8" width="31.9" height="31.9" fill="#1f77b4"/><rect x="156.7" y="799.8" width="31.9" height="31.9" fill="#2ca02c"/><rect x="188.6" y="799.8" width="63.8" height="31.9" fill="#1f77b4"/><rect x="252.4" y="799.8" width="63.8" height="31.9" fill="#2ca02c"/><rect x="316.2" y="799.8" width="63.8" height="31.9" fill="#9467bd"/><rect x="380" y="799.8" width="95.7" height="31.9" fill="#1f77b4"/><rect x="475.7" y="799.8" width="31.9" height="31.9" fill="#d62728"/><rect x="507.6" y="799.8" width="31.9" height="31.9" fill="#2ca02c"/><rect x="539.5" y="799.8" width="31.9" height="31.9" fill="#1f77b4"/><rect x="571.4" y="799.8" width="63.8" height="31.9" fill="#9467bd"/><rect x="635.2" y="799.8" width="191.4" height="31.9" fill="#1f77b4"/><rect x="61" y="831.7" width="63.8" height="31.9" fill="#1f77b4"/><rect x="124.8" y="831.7" width="31.9" height="31.9" fill="#9467bd"/><rect x="156.7" y="831.7" width="31.9" height="31.9" fill="#8c564b"/><rect x="188.6" y="831.7" width="159.5" height="31.9" fill="#1f77b4"/><rect x="348.1" y="831.7" width="31.9" height="31.9" fill="#2ca02c"/><rect x="380" y="831.7" width="31.9" height="31.9" fill="#d62728"/><rect x="411.9" y="831.7" width="31.9" height="31.9" fill="#1f77b4"/><rect x="443.8" y="831.7" width="31.9" height="31.9" fill="#d62728"/><rect x="475.7" y="831.7" width="31.9" height="31.9" fill="#1f77b4"/><rect x="507.6" y="831.7" width="31.9" height="31.9" fill="#ff7f0e"/><rect x="539.5" y="831.7" width="63.8" height="31.9" fill="#1f77b4"/><rect x="603.3" y="831.7" width="31.9" height="31.9" fill="#2ca02c"/><rect x="635.2" y="831.7" width="63.8" height="31.9" fill="#9467bd"/><rect x="699" y="831.7" width="31.9" height="31.9" fill="#1f77b4"/><rect x="730.9" y="831.7" width="31.9" height="31.9" fill="#ff7f0e"/><rect x="762.8" y="831.7" width="63.8" height="31.9" fill="#1f77b4"/><rect x="61" y="863.6" width="63.8" height="31.9" fill="#1f77b4"/><rect x="124.8" y="863.6" width="63.8" height="31.9" fill="#9467bd"/><rect x="188.6" y="863.6" width="31.9" height="31.9" fill="#d62728"/><rect x="220.5" y="863.6" width="63.8" height="31.9" fill="#2ca02c"/><rect x="284.3" y="863.6" width="63.8" height="31.9" fill="#1f77b4"/><rect x="348.1" y="863.6" width="31.9" height="31.9" fill="#d62728"/><rect x="380" y="863.6" width="191.4" height="31.9" fill="#1f77b4"/><rect x="571.4" y="863.6" width="31.9" height="31.9" fill="#d62728"/><rect x="603.3" y="863.6" width="31.9" height="31.9" fill="#1f77b4"/><rect x="635.2" y="863.6" width="63.8" height="31.9" fill="#9467bd"/><rect x="699" y="863.6" width="127.6" height="31.9" fill="#1f77b4"/><rect x="61" y="895.5" width="63.8" height="31.9" fill="#1f77b4"/><rect x="124.8" y="895.5" width="31.9" height="31.9" fill="#2ca02c"/><rect x="156.7" y="895.5" width="31.9" height="31.9" fill="#1f77b4"/><rect x="188.6" y="895.5" width="63.8" height="31.9" fill="#9467bd"/><rect x="252.4" y="895.5" width="95.7" height="31.9" fill="#1f77b4"/><rect x="348.1" y="895.5" width="31.9" height="31.9" fill="#ff7f0e"/><rect x="380" y="895.5" width="287.1" height="31.9" fill="#1f77b4"/><rect x="667.1" y="895.5" width="31.9" height="31.9" fill="#d62728"/><rect x="699" y="895.5" width="63.8" height="31.9" fill="#9467bd"/><rect x="762.8" y="895.5" width="63.8" height="31.9" fill="#1f77b4"/><rect x="61" y="927.4" width="95.7" height="31.9" fill="#1f77b4"/><rect x="156.7" y="927.4" width="31.9" height="31.9" fill="#ff7f0e"/><rect x="188.6" y="927.4" width="31.9" height="31.9" fill="#8c564b"/><rect x="220.5" y="927.4" width="31.9" height="31.9" fill="#9467bd"/><rect x="252.4" y="927.4" width="287.1" height="31.9" fill="#1f77b4"/><rect x="539.5" y="927.4" width="31.9" height="31.9" fill="#2ca02c"/><rect x="571.4" y="927.4" width="31.9" height="31.9" fill="#d62728"/><rect x="603.3" y="927.4" width="95.7" height="31.9" fill="#1f77b4"/><rect x="699" y="927.4" width="63.8" height="31.9" fill="#9467bd"/><rect x="762.8" y="927.4" width="63.8" height="31.9" fill="#1f77b4"/><rect x="61" y="959.3" width="159.5" height="31.9" fill="#1f77b4"/><rect x="220.5" y="959.3" width="31.9" height="31.9" fill="#2ca02c"/><rect x="252.4" y="959.3" width="63.8" height="31.9" fill="#9467bd"/><rect x="316.2" y="959.3" width="31.9" height="31.9" fill="#1f77b4"/><rect x="348.1" y="959.3" width="31.9" height="31.9" fill="#2ca02c"/><rect x="380" y="959.3" width="63.8" height="31.9" fill="#1f77b4"/><rect x="443.8" y="959.3" width="31.9" height="31.9" fill="#d62728"/><rect x="475.7" y="959.3" width="31.9" height="31.9" fill="#1f77b4"/><rect x="507.6" y="959.3" width="63.8" height="31.9" fill="#9467bd"/><rect x="571.4" y="959.3" width="191.4" height="31.9" fill="#1f77b4"/><rect x="762.8" y="959.3" width="63.8" height="31.9" fill="#9467bd"/><rect x="61" y="991.2" width="63.8" height="31.9" fill="#1f77b4"/><rect x="124.8" y="991.2" width="31.9" height="31.9" fill="#ff7f0e"/><rect x="156.7" y="991.2" width="63.8" height="31.9" fill="#1f77b4"/><rect x="220.5" y="991.2" width="31.9" height="31.9" fill="#2ca02c"/><rect x="252.4" y="991.2" width="31.9" height="31.9" fill="#9467bd"/><rect x="284.3" y="991.2" width="31.9" height="31.9" fill="#8c564b"/><rect x="316.2" y="991.2" width="31.9" height="31.9" fill="#d62728"/><rect x="348.1" y="991.2" width="31.9" height="31.9" fill="#1f77b4"/><rect x="380" y="991.2" width="31.9" height="31.9" fill="#2ca02c"/><rect x="411.9" y="991.2" width="31.9" height="31.9" fill="#d62728"/><rect x="443.8" y="991.2" width="31.9" height="31.9" fill="#2ca02c"/><rect x="475.7" y="991.2" width="31.9" height="31.9" fill="#1f77b4"/><rect x="507.6" y="991.2" width="63.8" height="31.9" fill="#9467bd"/><rect x="571.4" y="991.2" width="63.8" height="31.9" fill="#1f77b4"/><rect x="635.2" y="991.2" width="31.9" height="31.9" fill="#d62728"/><rect x="667.1" y="991.2" width="95.7" height="31.9" fill="#1f77b4"/><rect x="762.8" y="991.2" width="63.8" height="31.9" fill="#9467bd"/><rect x="61" y="1023.1" width="255.2" height="31.9" fill="#1f77b4"/><rect x="316.2" y="1023.1" width="63.8" height="31.9" fill="#9467bd"/><rect x="380" y="1023.1" width="31.9" height="31.9" fill="#1f77b4"/><rect x="411.9" y="1023.1" width="31.9" height="31.9" fill="#d62728"/><rect x="443.8" y="1023.1" width="63.8" height="31.9" fill="#9467bd"/><rect x="507.6" y="1023.1" width="31.9" height="31.9" fill="#1f77b4"/><rect x="539.5" y="1023.1" width="31.9" height="31.9" fill="#2ca02c"/><rect x="571.4" y="1023.1" width="63.8" height="31.9" fill="#1f77b4"/><rect x="635.2" y="1023.1" width="31.9" height="31.9" fill="#2ca02c"/><rect x="667.1" y="1023.1" width="31.9" height="31.9" fill="#1f77b4"/><rect x="699" y="1023.1" width="31.9" height="31.9" fill="#2ca02c"/><rect x="730.9" y="1023.1" width="95.7" height="31.9" fill="#1f77b4"/><rect x="61" y="1055" width="159.5" height="31.9" fill="#1f77b4"/><rect x="220.5" y="1055" width="31.9" height="31.9" fill="#d62728"/><rect x="252.4" y="1055" width="31.9" height="31.9" fill="#1f77b4"/><rect x="284.3" y="1055" width="31.9" height="31.9" fill="#2ca02c"/><rect x="316.2" y="1055" width="63.8" height="31.9" fill="#9467bd"/><rect x="380" y="1055" width="63.8" height="31.9" fill="#1f77b4"/><rect x="443.8" y="1055" width="63.8" height="31.9" fill="#9467bd"/><rect x="507.6" y="1055" width="31.9" height="31.9" fill="#1f77b4"/><rect x="539.5" y="1055" width="63.8" height="31.9" fill="#d62728"/><rect x="603.3" y="1055" width="63.8" height="31.9" fill="#1f77b4"/><rect x="667.1" y="1055" width="31.9" height="31.9" fill="#2ca02c"/><rect x="699" y="1055" width="31.9" height="31.9" fill="#d62728"/><rect x="730.9" y="1055" width="95.7" height="31.9" fill="#1f77b4"/><rect x="61" y="1086.9" width="319" height="31.9" fill="#1f77b4"/><rect x="380" y="1086.9" width="63.8" height="31.9" fill="#9467bd"/><rect x="443.8" y="1086.9" width="382.8" height="31.9" fill="#1f77b4"/><rect x="61" y="1118.8" width="319" height="31.9" fill="#1f77b4"/><rect x="380" y="1118.8" width="63.8" height="31.9" fill="#9467bd"/><rect x="443.8" y="1118.8" width="382.8" height="31.9" fill="#1f77b4"/></g>
<path d="M92.9 640.3V1150.7M124.8 640.3V1150.7M156.7 640.3V1150.7M188.6 640.3V1150.7M220.5 640.3V1150.7M252.4 640.3V1150.7M284.3 640.3V1150.7M316.2 640.3V1150.7M348.1 640.3V1150.7M380 640.3V1150.7M411.9 640.3V1150.7M443.8 640.3V1150.7M475.7 640.3V1150.7M507.6 640.3V1150.7M539.5 640.3V1150.7M571.4 640.3V1150.7M603.3 640.3V1150.7M635.2 640.3V1150.7M667.1 640.3V1150.7M699 640.3V1150.7M730.9 640.3V1150.7M762.8 640.3V1150.7M794.7 640.3V1150.7M61 640.3H826.6M61 672.2H826.6M61 704.1H826.6M61 736H826.6M61 767.9H826.6M61 799.8H826.6M61 831.7H826.6M61 863.6H826.6M61 895.5H826.6M61 927.4H826.6M61 959.3H826.6M61 991.2H826.6M61 1023.1H826.6M61 1055H826.6M61 1086.9H826.6M61 1118.8H826.6M61 1150.7H826.6" stroke="#d8e8f8" stroke-opacity="0.55" stroke-width="1.4" fill="none"/>
<path d="M76.95 635.7V639.9M108.85 635.7V639.9M140.75 635.7V639.9M172.65 635.7V639.9M204.55 635.7V639.9M236.45 635.7V639.9M268.35 635.7V639.9M300.25 635.7V639.9M332.15 635.7V639.9M364.05 635.7V639.9M395.95 635.7V639.9M427.85 635.7V639.9M459.75 635.7V639.9M491.65 635.7V639.9M523.55 635.7V639.9M555.45 635.7V639.9M587.35 635.7V639.9M619.25 635.7V639.9M651.15 635.7V639.9M683.05 635.7V639.9M714.95 635.7V639.9M746.85 635.7V639.9M778.75 635.7V639.9M810.65 635.7V639.9" stroke="#262626" stroke-width="1.3" fill="none"/>
<g font-family="'DejaVu Sans', sans-serif" font-size="23" fill="#262626" text-anchor="middle"><text x="76.95" y="628.7">1</text><text x="108.85" y="628.7">2</text><text x="140.75" y="628.7">3</text><text x="172.65" y="628.7">4</text><text x="204.55" y="628.7">5</text><text x="236.45" y="628.7">6</text><text x="268.35" y="628.7">7</text><text x="300.25" y="628.7">8</text><text x="332.15" y="628.7">9</text><text x="364.05" y="628.7">10</text><text x="395.95" y="628.7">11</text><text x="427.85" y="628.7">12</text><text x="459.75" y="628.7">13</text><text x="491.65" y="628.7">14</text><text x="523.55" y="628.7">15</text><text x="555.45" y="628.7">16</text><text x="587.35" y="628.7">17</text><text x="619.25" y="628.7">18</text><text x="651.15" y="628.7">19</text><text x="683.05" y="628.7">20</text><text x="714.95" y="628.7">21</text><text x="746.85" y="628.7">22</text><text x="778.75" y="628.7">23</text><text x="810.65" y="628.7">24</text></g>
<g font-family="'DejaVu Sans', sans-serif" font-size="23" fill="#262626" text-anchor="end"><text x="54.7" y="656.05" dy="0.28em">A</text><text x="54.7" y="687.95" dy="0.28em">B</text><text x="54.7" y="719.85" dy="0.28em">C</text><text x="54.7" y="751.75" dy="0.28em">D</text><text x="54.7" y="783.65" dy="0.28em">E</text><text x="54.7" y="815.55" dy="0.28em">F</text><text x="54.7" y="847.45" dy="0.28em">G</text><text x="54.7" y="879.35" dy="0.28em">H</text><text x="54.7" y="911.25" dy="0.28em">I</text><text x="54.7" y="943.15" dy="0.28em">J</text><text x="54.7" y="975.05" dy="0.28em">K</text><text x="54.7" y="1006.95" dy="0.28em">L</text><text x="54.7" y="1038.85" dy="0.28em">M</text><text x="54.7" y="1070.75" dy="0.28em">N</text><text x="54.7" y="1102.65" dy="0.28em">O</text><text x="54.7" y="1134.55" dy="0.28em">P</text></g>
<g font-family="'DejaVu Sans', sans-serif" font-size="38" fill="#000000"><text x="-2.3" y="49">a</text><text x="859.2" y="55.8">b</text><text x="-1.8" y="659.6">c</text><text x="861" y="666">d</text></g>
<g><path d="M1090.45 883.1L1090.45 691.3A191.8 191.8 0 0 1 1217.86 1026.46Z" fill="#67001f"/><path d="M1090.45 883.1L1217.86 1026.46A191.8 191.8 0 0 1 1214.9 1029.04Z" fill="#92c5de"/><path d="M1090.45 883.1L1214.9 1029.04A191.8 191.8 0 0 1 1208.83 1034.01Z" fill="#d1e5f0"/><path d="M1090.45 883.1L1208.83 1034.01A191.8 191.8 0 0 1 1192.79 1045.31Z" fill="#f7f7f7"/><path d="M1090.45 883.1L1192.79 1045.31A191.8 191.8 0 0 1 1123.65 1072.01Z" fill="#fddbc7"/><path d="M1090.45 883.1L1123.65 1072.01A191.8 191.8 0 0 1 1034.36 1066.52Z" fill="#f4a582"/><path d="M1090.45 883.1L1034.36 1066.52A191.8 191.8 0 0 1 929.82 987.92Z" fill="#d6604d"/><path d="M1090.45 883.1L929.82 987.92A191.8 191.8 0 0 1 1090.45 691.3Z" fill="#b2182b"/></g>
<g font-family="'Liberation Sans', Arial, sans-serif"><text transform="translate(1182.9 855.8) scale(1.05 1)" x="0" y="0" fill="#ffffff" text-anchor="middle" font-size="21.8">38.4%</text><text transform="translate(1000.8 843.0) scale(1.05 1)" x="0" y="0" fill="#ffffff" text-anchor="middle" font-size="21.8">34.2%</text><text transform="translate(1004.0 1006.0) scale(1.05 1)" x="0" y="0" fill="#444444" text-anchor="middle" font-size="21.8">11.1%</text><text transform="translate(1080.7 1047.4) scale(1.05 1)" x="0" y="0" fill="#444444" text-anchor="middle" font-size="21.8">7.49%</text><text transform="translate(1141.7 1016.9) rotate(69.3) scale(1.05 1)" x="0" y="0" dy="0.36em" fill="#444444" text-anchor="middle" font-size="21.8">6.19%</text><text transform="translate(1261.3 1043.3) scale(1.05 1)" x="0" y="0" fill="#2a3f5f" text-anchor="middle" font-size="21.8">0.326%</text><text transform="translate(1256.6 1067.4) scale(1.05 1)" x="0" y="0" fill="#2a3f5f" text-anchor="middle" font-size="21.8">0.651%</text><text transform="translate(1239.3 1092.9) scale(1.05 1)" x="0" y="0" fill="#2a3f5f" text-anchor="middle" font-size="21.8">1.63%</text></g>
<path d="M1212.3 1032.2V1060.6H1218.9M1201.4 1040.2V1085.1H1207.4" stroke="#2a3f5f" stroke-width="2.1" fill="none"/>
<g font-family="'Liberation Sans', Arial, sans-serif" font-size="22.1" fill="#2a3f5f"><rect x="1319.2" y="683.3" width="23.6" height="22.7" fill="#67001f"/><text transform="translate(1370.2 703.5) scale(1.043 1)" x="0" y="0">Preclinical</text><rect x="1319.2" y="719.93" width="23.6" height="22.7" fill="#b2182b"/><text transform="translate(1370.2 740.13) scale(1.043 1)" x="0" y="0">Launched</text><rect x="1319.2" y="756.56" width="23.6" height="22.7" fill="#d6604d"/><text transform="translate(1370.2 776.76) scale(1.043 1)" x="0" y="0">Phase 2</text><rect x="1319.2" y="793.19" width="23.6" height="22.7" fill="#f4a582"/><text transform="translate(1370.2 813.39) scale(1.043 1)" x="0" y="0">Phase 3</text><rect x="1319.2" y="829.82" width="23.6" height="22.7" fill="#fddbc7"/><text transform="translate(1370.2 850.02) scale(1.043 1)" x="0" y="0">Phase 1</text><rect x="1319.2" y="866.45" width="23.6" height="22.7" fill="#f7f7f7"/><text transform="translate(1370.2 886.65) scale(1.043 1)" x="0" y="0">Withdrawn</text><rect x="1319.2" y="903.08" width="23.6" height="22.7" fill="#d1e5f0"/><text transform="translate(1370.2 923.28) scale(1.043 1)" x="0" y="0">Phase 2/Phase 3</text><rect x="1319.2" y="939.71" width="23.6" height="22.7" fill="#92c5de"/><text transform="translate(1370.2 959.91) scale(1.043 1)" x="0" y="0">Phase 1/Phase 2</text></g>
<g shape-rendering="crispEdges"><rect x="1582.8" y="611.05" width="27" height="108.2" fill="#1f77b4"/><rect x="1582.8" y="718.95" width="27" height="108.2" fill="#ff7f0e"/><rect x="1582.8" y="826.85" width="27" height="108.2" fill="#2ca02c"/><rect x="1582.8" y="934.75" width="27" height="108.2" fill="#d62728"/><rect x="1582.8" y="1042.65" width="27" height="108.2" fill="#9467bd"/><rect x="1582.8" y="1150.55" width="27" height="108.2" fill="#8c564b"/></g>
<path d="M1609.8 665H1613.3M1609.8 772.9H1613.3M1609.8 880.8H1613.3M1609.8 988.7H1613.3M1609.8 1096.6H1613.3" stroke="#262626" stroke-width="1.2" fill="none"/>
<g font-family="'DejaVu Sans', sans-serif" font-size="20.2" fill="#262626"><text x="1615.6" y="665.1" dy="0.36em">trt</text><text x="1615.6" y="773" dy="0.36em">poscon_orf</text><text x="1615.6" y="880.9" dy="0.36em">poscon_diverse</text><text x="1615.6" y="988.8" dy="0.36em">poscon_cp</text><text x="1615.6" y="1096.7" dy="0.36em">negcon</text></g>
</svg>
</body></html>
